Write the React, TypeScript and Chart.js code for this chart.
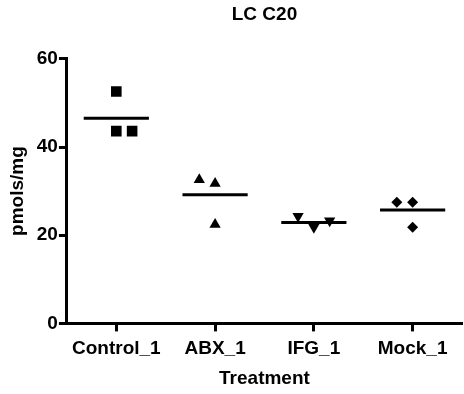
import React, { useEffect, useRef } from 'react';
import { Chart, registerables } from 'chart.js';

Chart.register(...registerables);

const categories = ['Control_1', 'ABX_1', 'IFG_1', 'Mock_1'];
const controlValues = [52.6, 43.6, 43.6];
const controlOffsets = [0, 0, 0.16];
const abxValues = [32.6, 31.7, 22.4];
const abxOffsets = [-0.16, 0, 0];
const ifgValues = [24.3, 21.8, 23.3];
const ifgOffsets = [-0.16, 0, 0.16];
const mockValues = [27.5, 27.5, 21.8];
const mockOffsets = [-0.16, 0, 0];
const meanValues = [46.5, 29.2, 22.9, 25.7];
const meanHalfWidth = 0.33;

const FONT = "'Liberation Sans', Arial, sans-serif";

export default function App() {
  const ref = useRef<HTMLCanvasElement | null>(null);

  useEffect(() => {
    if (!ref.current) return;
    const pts = (vals: number[], offs: number[], idx: number) =>
      vals.map((v, i) => ({ x: idx + 1 + offs[i], y: v }));
    const groupData = [
      { values: controlValues, offsets: controlOffsets, style: 'rect', radius: 7.5, rotation: 0 },
      { values: abxValues, offsets: abxOffsets, style: 'triangle', radius: 6.5, rotation: 0 },
      { values: ifgValues, offsets: ifgOffsets, style: 'triangle', radius: 6.5, rotation: 180 },
      { values: mockValues, offsets: mockOffsets, style: 'rectRot', radius: 5.5, rotation: 0 },
    ];
    const pointSets: any[] = groupData.map((g, i) => ({
      type: 'scatter',
      label: categories[i],
      data: pts(g.values, g.offsets, i),
      pointStyle: g.style,
      pointRadius: g.radius,
      pointRotation: g.rotation,
      backgroundColor: '#000',
      borderColor: '#000',
      borderWidth: 0,
      showLine: false,
    }));
    const meanSets: any[] = meanValues.map((m, i) => ({
      type: 'line',
      label: categories[i] + ' mean',
      data: [
        { x: i + 1 - meanHalfWidth, y: m },
        { x: i + 1 + meanHalfWidth, y: m },
      ],
      borderColor: '#000',
      borderWidth: 3,
      pointRadius: 0,
      fill: false,
    }));
    const font = { family: FONT, size: 19, weight: 'bold' as const };
    const chart = new Chart(ref.current, {
      type: 'scatter',
      data: { datasets: [...pointSets, ...meanSets] },
      options: {
        responsive: false,
        animation: false,
        layout: { autoPadding: false, padding: { top: 2, right: 2, bottom: 4, left: 6 } },
        plugins: {
          legend: { display: false },
          tooltip: { enabled: false },
          title: {
            display: true,
            text: 'LC C20',
            fullSize: false,
            color: '#000',
            font: { family: FONT, size: 19, weight: 'bold' },
            padding: { top: 1, bottom: 33 },
          },
        },
        scales: {
          x: {
            type: 'linear',
            min: 0.5,
            max: 4.5,
            afterBuildTicks: (s: any) => {
              s.ticks = categories.map((_, i) => ({ value: i + 1 }));
            },
            ticks: {
              callback: (v: any) => categories[Math.round(Number(v)) - 1] ?? '',
              font,
              color: '#000',
              padding: 6,
              autoSkip: false,
              maxRotation: 0,
            },
            grid: {
              display: true,
              drawOnChartArea: false,
              tickLength: 8,
              tickWidth: 3,
              tickColor: '#000',
            },
            border: { display: true, width: 3, color: '#000' },
            title: {
              display: true,
              text: 'Treatment',
              color: '#000',
              font: { family: FONT, size: 19, weight: 'bold' },
              padding: { top: 1, bottom: 0 },
            },
          },
          y: {
            min: 0,
            max: 60,
            ticks: { stepSize: 20, font, color: '#000', padding: 1 },
            grid: {
              display: true,
              drawOnChartArea: false,
              tickLength: 8,
              tickWidth: 3,
              tickColor: '#000',
            },
            border: { display: true, width: 3, color: '#000' },
            title: {
              display: true,
              text: 'pmols/mg',
              color: '#000',
              font: { family: FONT, size: 19, weight: 'bold' },
              padding: { top: 0, bottom: 7 },
            },
          },
        },
      } as any,
    });
    return () => chart.destroy();
  }, []);

  return (
    <div style={{ position: 'absolute', left: 0, top: 0, width: 464, height: 394 }}>
      <canvas ref={ref} width={464} height={394} style={{ display: 'block' }} />
    </div>
  );
}
